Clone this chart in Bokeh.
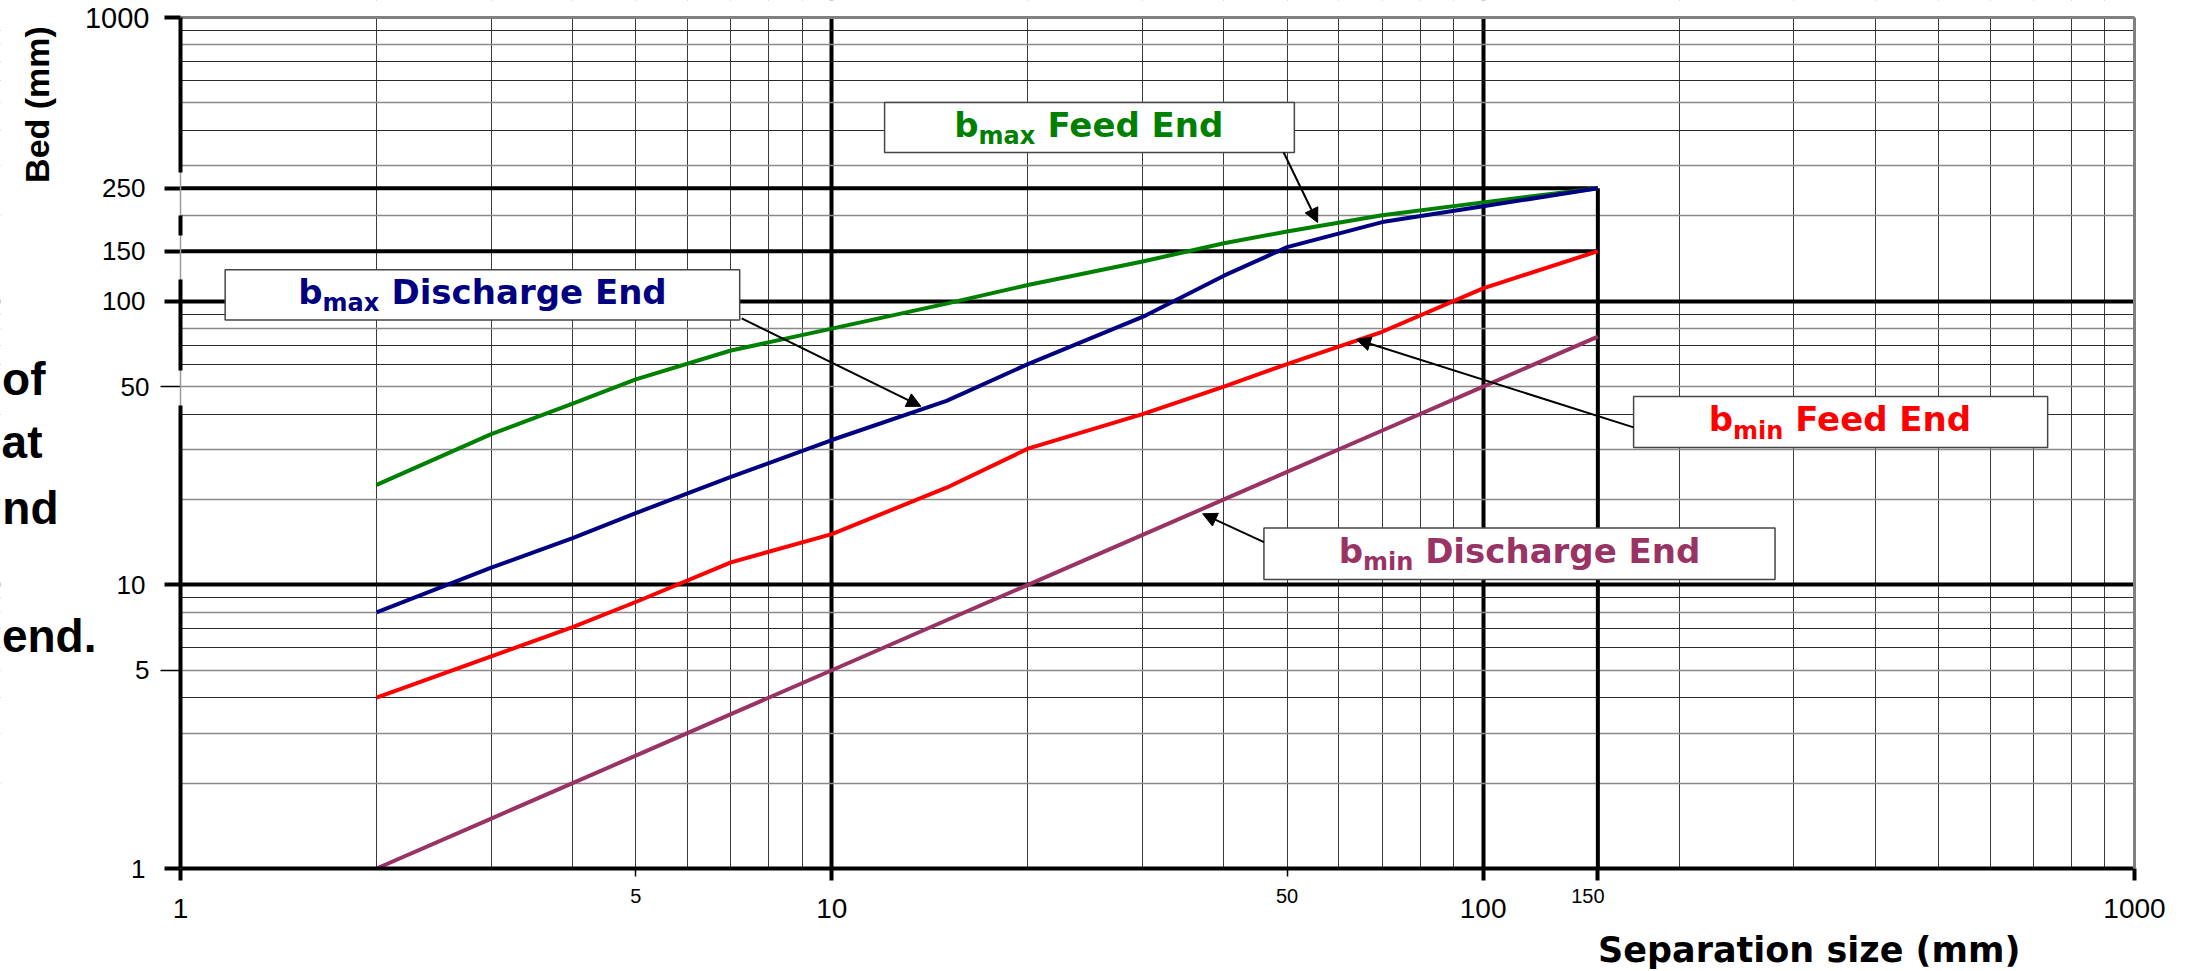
from bokeh.plotting import figure
from bokeh.models import (Range1d, FixedTicker, Grid, Label, BoxAnnotation, Arrow,
                          NormalHead, PrintfTickFormatter, LogAxis)
from bokeh.embed import file_html
from bokeh.resources import INLINE

# ---------------- data ----------------
size_mm = [2, 3, 4, 5, 7, 10, 15, 20, 30, 40, 50, 70, 100, 150]
bmax_feed = [22.5, 34, 43.5, 53, 67, 80, 98, 114, 138, 160, 176, 201, 223, 250]
bmax_discharge = [8.0, 11.5, 14.6, 17.9, 24, 32.4, 44.5, 60, 88, 123, 155, 190, 216, 250]
bmin_feed = [4.0, 5.6, 7.1, 8.7, 12, 15.1, 22, 30.2, 40, 50, 60, 78, 111, 150]
bmin_discharge = [1.0, 1.5, 2.0, 2.5, 3.5, 5, 7.5, 10, 15, 20, 25, 35, 50, 75]

x_major_ticks = [1, 10, 100, 150, 1000]
x_small_labels = [5, 50, 150]
y_major_ticks = [1, 10, 100, 150, 250, 1000]
y_small_labels = [5, 50]
ref_levels = [250, 150]
max_size = 150
axis_min, axis_max = 1, 1000

callout_sub = ["max", "max", "min", "min"]
callout_rest = ["Feed End", "Discharge End", "Feed End", "Discharge End"]
callout_color = ["#008000", "#000080", "#ff0000", "#993366"]
box_left = [12.05, 1.171, 170.2, 46.07]
box_right = [51.3, 7.22, 735.6, 280.6]
box_top = [501.7, 129.1, 46.1, 15.85]
box_bottom = [334.3, 85.9, 30.5, 10.45]
arrow_x0 = [49.4, 7.27, 170.2, 46.07]
arrow_y0 = [334.3, 86.9, 35.9, 14.15]
arrow_x1 = [55.7, 13.7, 63.9, 37.1]
arrow_y1 = [189.4, 42.6, 73.3, 17.8]

# pieces of the left axis line that are visible (gaps behind the pasted labels)
spine_from = [1, 56.9, 170.4, 284.2]
spine_to = [42.9, 119.2, 200.5, 1000]

side_words = ["of", "at", "nd", "end."]

# ---------------- figure ----------------
W_CANVAS, H_CANVAS = 2187, 971
LEFT, RIGHT, TOP, BOTTOM = 180, 53, 17, 103      # plot-area margins in pixels
DEC_X = (W_CANVAS - LEFT - RIGHT) / 3.0          # pixels per decade
DEC_Y = (H_CANVAS - TOP - BOTTOM) / 3.0

x_rng = Range1d(10 ** (-LEFT / DEC_X), 10 ** (3 + RIGHT / DEC_X))
y_rng = Range1d(10 ** (-BOTTOM / DEC_Y), 10 ** (3 + TOP / DEC_Y))

p = figure(width=W_CANVAS, height=H_CANVAS, x_axis_type="log", y_axis_type="log",
           x_range=x_rng, y_range=y_rng, output_backend="svg", toolbar_location=None,
           min_border=0, min_border_left=0, min_border_right=0,
           min_border_top=0, min_border_bottom=0,
           background_fill_color="white", border_fill_color="white",
           outline_line_color=None)

def px_x(X):
    return 10 ** ((X - LEFT) / DEC_X)
def px_y(Y):
    return 10 ** (3 - (Y - TOP) / DEC_Y)

decades = [1, 10, 100]
minor_all = [m * d for d in decades for m in range(2, 10)]
minor_dark = [m * d for d in decades for m in (4, 6, 7, 9)]
minor_gray = [m * d for d in decades for m in (2, 3, 5, 8)]

p.xgrid.ticker = FixedTicker(ticks=[10, 100], minor_ticks=minor_all)
p.xgrid.grid_line_color = "black"
p.xgrid.grid_line_width = 4
p.xgrid.minor_grid_line_color = "#3a3a3a"
p.xgrid.minor_grid_line_width = 1

p.ygrid.ticker = FixedTicker(ticks=[10, 100], minor_ticks=minor_dark)
p.ygrid.grid_line_color = "black"
p.ygrid.grid_line_width = 4
p.ygrid.minor_grid_line_color = "#2a2a2a"
p.ygrid.minor_grid_line_width = 1
p.add_layout(Grid(dimension=1, ticker=FixedTicker(ticks=[], minor_ticks=minor_gray),
                  grid_line_color=None, minor_grid_line_color="#8a8a8a",
                  minor_grid_line_width=1.5))

# white masks so the grid stays inside the 1..1000 plot area
for kw in (dict(top=axis_min), dict(bottom=axis_max), dict(right=axis_min),
           dict(left=axis_max)):
    p.add_layout(BoxAnnotation(fill_color="white", fill_alpha=1.0, line_color=None,
                               level="underlay", **kw))

xa = p.xaxis[0]
xa.fixed_location = axis_min
xa.bounds = (axis_min, axis_max)
xa.ticker = FixedTicker(ticks=x_major_ticks, minor_ticks=[5, 50])
xa.formatter = PrintfTickFormatter(format="%d")
xa.major_label_overrides = {150: ""}
xa.axis_line_width = 4
xa.axis_line_color = "black"
xa.major_tick_line_width = 4
xa.major_tick_out = 12
xa.major_tick_in = 0
xa.minor_tick_line_width = 1.5
xa.minor_tick_out = 8
xa.minor_tick_in = 0
xa.major_label_text_font = "Liberation Sans"
xa.major_label_text_font_size = "28px"
xa.major_label_text_color = "black"
xa.major_label_standoff = 18


def line_axis(side, loc, lo, hi, color, width):
    p.add_layout(LogAxis(fixed_location=loc, bounds=(lo, hi),
                         ticker=FixedTicker(ticks=[], minor_ticks=[]),
                         axis_line_color=color, axis_line_width=width,
                         major_tick_line_color=None, minor_tick_line_color=None,
                         major_label_text_font_size="0px"), side)


# thin gray edge of the plot area on the left, then the thick black spine pieces
line_axis("left", axis_min, axis_min, axis_max, "#9a9a9a", 1.5)
for lo, hi in zip(spine_from, spine_to):
    line_axis("left", axis_min, lo, hi, "black", 4)

ya = p.yaxis[0]
ya.fixed_location = axis_min
ya.bounds = (axis_min, axis_max)
ya.ticker = FixedTicker(ticks=y_major_ticks, minor_ticks=y_small_labels)
ya.formatter = PrintfTickFormatter(format="%d")
ya.major_label_overrides = {1000: ""}
ya.axis_line_color = None
ya.major_tick_line_width = 4
ya.major_tick_out = 16
ya.major_tick_in = 0
ya.minor_tick_line_width = 1.5
ya.minor_tick_out = 20
ya.minor_tick_in = 0
ya.major_label_text_font = "Liberation Sans"
ya.major_label_text_font_size = "26px"
ya.major_label_text_color = "black"
ya.major_label_standoff = 15

# gray top and right borders of the plot area
line_axis("above", axis_max, axis_min, axis_max, "#808080", 3)
line_axis("right", axis_max, axis_min, axis_max, "#808080", 3)

# reference lines
p.segment(x0=[axis_min] * len(ref_levels), y0=ref_levels,
          x1=[max_size] * len(ref_levels), y1=ref_levels,
          line_color="black", line_width=4)
p.segment(x0=[max_size], y0=[axis_min], x1=[max_size], y1=[max(ref_levels)],
          line_color="black", line_width=4)

# curves
for ys, col in [(bmax_feed, "#008000"), (bmax_discharge, "#000080"),
                (bmin_feed, "#ff0000"), (bmin_discharge, "#993366")]:
    p.line(size_mm, ys, line_color=col, line_width=4, line_join="round")

# small tick labels and the larger top label
small_dx = {5: 0, 50: 0, 150: -10}
for v in x_small_labels:
    p.add_layout(Label(x=v, y=axis_min, x_offset=small_dx[v], y_offset=-27, text=str(v),
                       text_align="center", text_baseline="middle",
                       text_font="Liberation Sans", text_font_size="20px",
                       text_color="black"))
for v in y_small_labels:
    p.add_layout(Label(x=axis_min, y=v, x_offset=-31, text=str(v), text_align="right",
                       text_baseline="middle", text_font="Liberation Sans",
                       text_font_size="26px", text_color="black"))
p.add_layout(Label(x=axis_min, y=axis_max, x_offset=-31, text=str(axis_max),
                   text_align="right", text_baseline="middle",
                   text_font="Liberation Sans", text_font_size="29px",
                   text_color="black"))

# callouts
CW = {' ': 0.348, 'b': 0.716, 'm': 1.042, 'a': 0.675, 'x': 0.663, 'i': 0.343,
      'n': 0.712, 'F': 0.683, 'e': 0.678, 'd': 0.716, 'E': 0.683, 'D': 0.830,
      's': 0.595, 'c': 0.592, 'h': 0.712, 'r': 0.493, 'g': 0.716}
def tw(s, size):
    return sum(CW.get(c, 0.65) for c in s) * size

MAIN, SUB = 34, 24
MID = 0.35   # distance baseline -> middle, in em
for i in range(4):
    p.add_layout(BoxAnnotation(left=box_left[i], right=box_right[i], top=box_top[i],
                               bottom=box_bottom[i], fill_color="white", fill_alpha=1.0,
                               line_color="#454545", line_width=1.5, line_alpha=1.0))
    p.add_layout(Arrow(x_start=arrow_x0[i], y_start=arrow_y0[i], x_end=arrow_x1[i],
                       y_end=arrow_y1[i], line_color="black", line_width=2,
                       end=NormalHead(size=14, fill_color="black", line_color="black",
                                      line_width=1)))
    cx = (box_left[i] * box_right[i]) ** 0.5
    cy = (box_top[i] * box_bottom[i]) ** 0.5
    w_b = tw("b", MAIN)
    w_s = tw(callout_sub[i], SUB)
    w_r = tw(" " + callout_rest[i], MAIN)
    x0 = -(w_b + w_s + w_r) / 2
    common = dict(x=cx, y=cy, text_align="left", text_baseline="middle",
                  text_font="DejaVu Sans", text_font_style="bold",
                  text_color=callout_color[i])
    main_mid = -9 + MID * MAIN
    sub_mid = -17 + MID * SUB
    p.add_layout(Label(text="b", x_offset=x0, y_offset=main_mid,
                       text_font_size=f"{MAIN}px", **common))
    p.add_layout(Label(text=callout_sub[i], x_offset=x0 + w_b, y_offset=sub_mid,
                       text_font_size=f"{SUB}px", **common))
    p.add_layout(Label(text=callout_rest[i], x_offset=x0 + w_b + w_s + tw(" ", MAIN),
                       y_offset=main_mid, text_font_size=f"{MAIN}px", **common))

# axis titles
p.add_layout(Label(x=px_x(36), y=px_y(104), text="Bed (mm)", angle=1.5707963,
                   text_align="center", text_baseline="middle",
                   text_font="Liberation Sans", text_font_style="bold",
                   text_font_size="34px", text_color="black"))
p.add_layout(Label(x=px_x(2020), y=px_y(949), text="Separation size (mm)",
                   text_align="right", text_baseline="middle",
                   text_font="DejaVu Sans", text_font_style="bold",
                   text_font_size="35px", text_color="black"))

# fragments of slide text at the left edge
side_right = [45, 42, 58, 96]
side_mid = [378, 441, 507, 635]
for wtxt, xr, ym in zip(side_words, side_right, side_mid):
    p.add_layout(Label(x=px_x(xr), y=px_y(ym), text=wtxt, text_align="right",
                       text_baseline="middle", text_font="Liberation Sans",
                       text_font_style="bold", text_font_size="46px", text_color="black"))

open("out.html", "w").write(file_html(p, INLINE))
